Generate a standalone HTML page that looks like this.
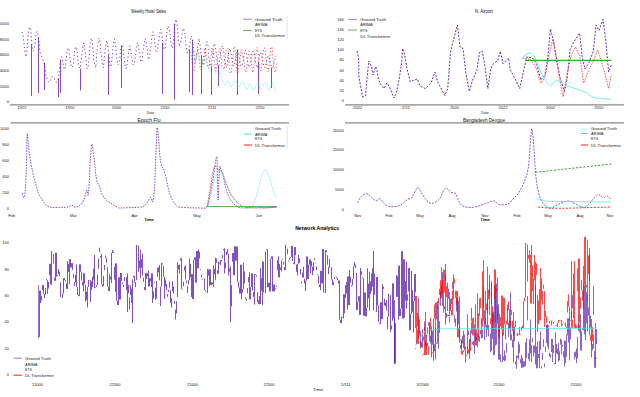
<!DOCTYPE html>
<html><head><meta charset="utf-8"><style>
html,body{margin:0;padding:0;background:#fff;}
svg{display:block;font-family:"Liberation Sans", sans-serif;}
</style></head><body>
<svg width="640" height="397" viewBox="0 0 640 397">
<rect width="640" height="397" fill="#fff"/>
<line x1="10" y1="104.8" x2="289" y2="104.8" stroke="#8a8a8a" stroke-width="1.2" opacity="1"/>
<text x="148.5" y="11.0" font-size="5.0" text-anchor="middle" fill="#111" font-weight="normal" opacity="1" dominant-baseline="central" textLength="35" lengthAdjust="spacingAndGlyphs">Weekly Hotel Sales</text>
<text x="9.0" y="101.6" font-size="4.2" text-anchor="end" fill="#222" font-weight="normal" opacity="1" dominant-baseline="central">0</text>
<text x="9.0" y="86.0" font-size="4.2" text-anchor="end" fill="#222" font-weight="normal" opacity="1" dominant-baseline="central">2000</text>
<text x="9.0" y="70.4" font-size="4.2" text-anchor="end" fill="#222" font-weight="normal" opacity="1" dominant-baseline="central">4000</text>
<text x="9.0" y="54.8" font-size="4.2" text-anchor="end" fill="#222" font-weight="normal" opacity="1" dominant-baseline="central">6000</text>
<text x="9.0" y="39.2" font-size="4.2" text-anchor="end" fill="#222" font-weight="normal" opacity="1" dominant-baseline="central">8000</text>
<text x="9.0" y="23.6" font-size="4.2" text-anchor="end" fill="#222" font-weight="normal" opacity="1" dominant-baseline="central">10000</text>
<text x="22.0" y="107.8" font-size="4.0" text-anchor="middle" fill="#222" font-weight="normal" opacity="1" dominant-baseline="central">1922</text>
<text x="70.0" y="107.8" font-size="4.0" text-anchor="middle" fill="#222" font-weight="normal" opacity="1" dominant-baseline="central">1950</text>
<text x="116.5" y="107.8" font-size="4.0" text-anchor="middle" fill="#222" font-weight="normal" opacity="1" dominant-baseline="central">2000</text>
<text x="165.0" y="107.8" font-size="4.0" text-anchor="middle" fill="#222" font-weight="normal" opacity="1" dominant-baseline="central">2150</text>
<text x="212.0" y="107.8" font-size="4.0" text-anchor="middle" fill="#222" font-weight="normal" opacity="1" dominant-baseline="central">2211</text>
<text x="260.0" y="107.8" font-size="4.0" text-anchor="middle" fill="#222" font-weight="normal" opacity="1" dominant-baseline="central">2250</text>
<text x="150.5" y="112.3" font-size="4.2" text-anchor="middle" fill="#222" font-weight="normal" opacity="1" dominant-baseline="central" textLength="7.5" lengthAdjust="spacingAndGlyphs">Date</text>
<polyline points="22.00,31.86 23.10,35.92 24.20,45.15 25.30,55.39 26.40,56.67 27.50,44.06 28.60,30.85 29.70,27.08 30.80,30.21 31.90,43.93 33.00,51.05 34.10,49.94 35.20,41.87 36.30,32.63 37.40,31.26 38.50,37.27 39.60,48.88 40.70,55.19 41.80,56.68 42.90,59.38 44.00,62.76 45.10,67.79 46.20,76.77 47.30,80.12 48.40,82.00 49.50,82.26 50.60,79.98 51.70,76.92 52.80,76.58 53.90,77.26 55.00,80.12 56.10,82.22 57.20,81.68 58.30,78.32 59.40,69.93 60.50,59.84 61.60,56.74 62.70,61.40 63.80,68.21 64.90,69.69 66.00,60.67 67.10,52.18 68.20,47.87 69.30,51.18 70.40,61.35 71.50,67.54 72.60,67.05 73.70,61.96 74.80,49.65 75.90,46.60 77.00,50.35 78.10,61.20 79.20,67.16 80.30,68.53 81.40,57.91 82.50,49.15 83.60,42.66 84.70,47.62 85.80,57.63 86.90,68.36 88.00,68.34 89.10,56.12 90.20,43.44 91.30,38.11 92.40,41.78 93.50,57.67 94.60,64.84 95.70,67.80 96.80,54.25 97.90,43.38 99.00,38.03 100.10,41.98 101.20,54.97 102.30,64.63 103.40,67.69 104.50,56.70 105.60,46.00 106.70,40.38 107.80,45.64 108.90,54.68 110.00,66.89 111.10,66.12 112.20,56.22 113.30,43.63 114.40,38.89 115.50,44.43 116.60,57.35 117.70,64.73 118.80,64.05 119.90,57.96 121.00,46.34 122.10,44.41 123.20,49.51 124.30,60.15 125.40,68.17 126.50,68.14 127.60,60.08 128.70,51.49 129.80,45.92 130.90,50.75 132.00,58.32 133.10,65.02 134.20,63.74 135.30,57.10 136.40,48.65 137.50,42.44 138.60,47.07 139.70,53.97 140.80,61.96 141.90,61.52 143.00,51.75 144.10,43.35 145.20,38.46 146.30,42.05 147.40,50.82 148.50,59.73 149.60,57.63 150.70,47.43 151.80,37.60 152.90,31.71 154.00,35.09 155.10,45.06 156.20,52.71 157.30,51.64 158.40,43.08 159.50,34.83 160.60,29.37 161.70,33.50 162.80,42.72 163.90,48.93 165.00,49.50 166.10,40.45 167.20,29.96 168.30,26.15 169.40,28.58 170.50,38.90 171.60,46.18 172.70,48.42 173.80,38.12 174.90,23.59 176.00,19.41 177.10,24.51 178.20,37.52 179.30,46.50 180.40,43.73 181.50,38.60 182.60,31.14 183.70,28.29 184.80,33.55 185.90,44.44 187.00,52.32 188.10,52.66 189.20,49.53 190.30,40.56 191.40,35.89 192.50,39.89 193.60,50.09 194.70,62.33 195.80,61.83 196.90,52.66 198.00,45.44 199.10,38.67 200.20,45.95 201.30,55.33 202.40,63.93 203.50,65.58 204.60,58.81 205.70,47.71 206.80,41.67 207.90,45.04 209.00,58.26 210.10,65.25 211.20,66.26 212.30,58.41 213.40,46.49 214.50,43.53 215.60,48.05 216.70,56.95 217.80,66.07 218.90,65.10 220.00,58.33 221.10,50.28 222.20,45.63 223.30,48.79 224.40,59.01 225.50,64.90 226.60,67.85 227.70,60.30 228.80,51.30 229.90,48.51 231.00,52.74 232.10,60.22 233.20,65.58 234.30,66.10 235.40,60.55 236.50,53.13 237.60,49.56 238.70,53.76 239.80,60.26 240.90,66.36 242.00,65.92 243.10,60.79 244.20,54.56 245.30,49.90 246.40,52.37 247.50,60.40 248.60,66.38 249.70,67.06 250.80,61.17 251.90,52.75 253.00,51.12 254.10,52.36 255.20,59.83 256.30,65.64 257.40,67.83 258.50,62.29 259.60,53.86 260.70,52.58 261.80,56.22 262.90,62.49 264.00,66.82 265.10,67.86 266.20,62.92 267.30,57.66 268.40,55.81 269.50,59.67 270.60,63.29 271.70,67.53 272.80,67.54 273.90,63.69 275.00,59.27 276.10,55.78" fill="none" stroke="#5e18b8" stroke-width="0.9" opacity="0.95" stroke-linejoin="round" stroke-dasharray="1.2,2.6"/>
<line x1="31.50" y1="43.93" x2="31.50" y2="96.00" stroke="#5e18b8" stroke-width="0.85" opacity="0.9"/>
<line x1="38.50" y1="37.27" x2="38.50" y2="93.00" stroke="#5e18b8" stroke-width="0.85" opacity="0.9"/>
<line x1="44.50" y1="62.76" x2="44.50" y2="90.00" stroke="#5e18b8" stroke-width="0.85" opacity="0.9"/>
<line x1="58.50" y1="78.32" x2="58.50" y2="97.00" stroke="#5e18b8" stroke-width="0.85" opacity="0.9"/>
<line x1="60.50" y1="59.84" x2="60.50" y2="93.00" stroke="#5e18b8" stroke-width="0.85" opacity="0.9"/>
<line x1="80.50" y1="68.53" x2="80.50" y2="90.50" stroke="#5e18b8" stroke-width="0.85" opacity="0.9"/>
<line x1="108.50" y1="54.68" x2="108.50" y2="95.00" stroke="#5e18b8" stroke-width="0.85" opacity="0.9"/>
<line x1="121.50" y1="46.34" x2="121.50" y2="88.00" stroke="#5e18b8" stroke-width="0.85" opacity="0.9"/>
<line x1="162.50" y1="42.72" x2="162.50" y2="93.70" stroke="#5e18b8" stroke-width="0.85" opacity="0.9"/>
<line x1="174.50" y1="23.59" x2="174.50" y2="99.70" stroke="#5e18b8" stroke-width="0.85" opacity="0.9"/>
<line x1="189.50" y1="49.53" x2="189.50" y2="92.00" stroke="#5e18b8" stroke-width="0.85" opacity="0.9"/>
<line x1="192.50" y1="39.89" x2="192.50" y2="95.00" stroke="#5e18b8" stroke-width="0.85" opacity="0.9"/>
<line x1="201.50" y1="55.33" x2="201.50" y2="94.00" stroke="#5e18b8" stroke-width="0.85" opacity="0.9"/>
<line x1="211.50" y1="66.26" x2="211.50" y2="95.00" stroke="#5e18b8" stroke-width="0.85" opacity="0.9"/>
<line x1="218.50" y1="65.10" x2="218.50" y2="86.00" stroke="#5e18b8" stroke-width="0.85" opacity="0.9"/>
<line x1="237.50" y1="49.56" x2="237.50" y2="95.00" stroke="#5e18b8" stroke-width="0.85" opacity="0.9"/>
<line x1="258.50" y1="62.29" x2="258.50" y2="94.00" stroke="#5e18b8" stroke-width="0.85" opacity="0.9"/>
<line x1="271.50" y1="67.53" x2="271.50" y2="88.00" stroke="#5e18b8" stroke-width="0.85" opacity="0.9"/>
<polyline points="190.00,52.23 191.00,53.33 192.00,60.59 193.00,71.01 194.00,71.02 195.00,61.77 196.00,58.58 197.00,52.31 198.00,48.33 199.00,56.70 200.00,66.60 201.00,69.89 202.00,66.06 203.00,60.45 204.00,53.52 205.00,47.74 206.00,52.69 207.00,62.37 208.00,67.01 209.00,68.73 210.00,59.25 211.00,55.40 212.00,48.05 213.00,50.69 214.00,59.54 215.00,66.34 216.00,71.24 217.00,63.70 218.00,54.23 219.00,51.72 220.00,48.55 221.00,56.43 222.00,67.43 223.00,67.88 224.00,69.66 225.00,63.39 226.00,50.11 227.00,49.38 228.00,48.34 229.00,63.15 230.00,73.25 231.00,73.25 232.00,66.33 233.00,55.28 234.00,46.17 235.00,47.60 236.00,58.41 237.00,70.60 238.00,73.21 239.00,65.06 240.00,59.78 241.00,49.38 242.00,51.55 243.00,57.25 244.00,61.21 245.00,70.34 246.00,72.30 247.00,65.04 248.00,57.18 249.00,51.33 250.00,54.83 251.00,57.50 252.00,68.75 253.00,72.76 254.00,65.08 255.00,59.34 256.00,52.36 257.00,47.58 258.00,51.99 259.00,67.66 260.00,68.12 261.00,70.70 262.00,62.92 263.00,53.90 264.00,47.69 265.00,48.44 266.00,59.81 267.00,65.80 268.00,71.67 269.00,65.55 270.00,56.61 271.00,46.85 272.00,47.19 273.00,58.70 274.00,67.37 275.00,72.78 276.00,67.11 277.00,63.57" fill="none" stroke="#ff1a1a" stroke-width="0.85" opacity="0.9" stroke-linejoin="round" stroke-dasharray="1.2,2.2"/>
<polyline points="190.00,49.15 191.00,50.93 192.00,54.74 193.00,58.23 194.00,59.65 195.00,58.41 196.00,56.25 197.00,55.34 198.00,56.03 199.00,57.52 200.00,61.54 201.00,64.50 202.00,64.32 203.00,61.60 204.00,59.50 205.00,59.05 206.00,61.21 207.00,64.28 208.00,66.98 209.00,68.75 210.00,67.07 211.00,65.14 212.00,62.67 213.00,64.31 214.00,66.07 215.00,70.02 216.00,73.97 217.00,73.83 218.00,72.78 219.00,72.65 220.00,71.91 221.00,75.44 222.00,78.83 223.00,82.77 224.00,85.07 225.00,84.61 226.00,82.49 227.00,80.98 228.00,81.13 229.00,82.39 230.00,85.49 231.00,86.59 232.00,86.70 233.00,84.03 234.00,80.57 235.00,79.74 236.00,80.82 237.00,83.82 238.00,86.51 239.00,86.22 240.00,86.13 241.00,82.64 242.00,81.59 243.00,81.17 244.00,84.46 245.00,86.94 246.00,89.54 247.00,89.80 248.00,87.03 249.00,84.81 250.00,84.04 251.00,85.31 252.00,88.16 253.00,89.83 254.00,90.85 255.00,88.28 256.00,85.33 257.00,83.38 258.00,82.58 259.00,85.35 260.00,87.70 261.00,88.61 262.00,88.40 263.00,85.63 264.00,83.22 265.00,82.03 266.00,83.01 267.00,86.25 268.00,88.76 269.00,90.37 270.00,88.13 271.00,85.27 272.00,83.94 273.00,83.89 274.00,86.27 275.00,88.59 276.00,91.32 277.00,90.77" fill="none" stroke="#3fe6ee" stroke-width="0.8" opacity="0.9" stroke-linejoin="round" stroke-dasharray="1.2,1.3"/>
<line x1="287" y1="16.6" x2="287" y2="39.5" stroke="#d8d8d8" stroke-width="0.8" opacity="1"/>
<line x1="243" y1="19.2" x2="252" y2="19.2" stroke="#a77cd6" stroke-width="1.0" opacity="1"/>
<line x1="243" y1="30.4" x2="252" y2="30.4" stroke="#5cb85c" stroke-width="1.0" opacity="1"/>
<text x="255.0" y="19.2" font-size="4.2" text-anchor="start" fill="#222" font-weight="normal" opacity="1" dominant-baseline="central" textLength="27.7" lengthAdjust="spacingAndGlyphs">Ground Truth</text>
<text x="255.0" y="24.7" font-size="4.2" text-anchor="start" fill="#222" font-weight="normal" opacity="1" dominant-baseline="central" textLength="12.4" lengthAdjust="spacingAndGlyphs">ARIMA</text>
<text x="255.0" y="30.4" font-size="4.2" text-anchor="start" fill="#222" font-weight="normal" opacity="1" dominant-baseline="central" textLength="7.2" lengthAdjust="spacingAndGlyphs">ETS</text>
<text x="255.0" y="35.8" font-size="4.2" text-anchor="start" fill="#222" font-weight="normal" opacity="1" dominant-baseline="central" textLength="30" lengthAdjust="spacingAndGlyphs">DL Transformer</text>
<line x1="345" y1="104.8" x2="624" y2="104.8" stroke="#8a8a8a" stroke-width="1.2" opacity="1"/>
<text x="484.0" y="11.0" font-size="5.0" text-anchor="middle" fill="#111" font-weight="normal" opacity="1" dominant-baseline="central" textLength="18" lengthAdjust="spacingAndGlyphs">N. Airport</text>
<text x="344.0" y="100.3" font-size="4.0" text-anchor="end" fill="#222" font-weight="normal" opacity="1" dominant-baseline="central">0</text>
<text x="344.0" y="90.2" font-size="4.0" text-anchor="end" fill="#222" font-weight="normal" opacity="1" dominant-baseline="central">20</text>
<text x="344.0" y="80.1" font-size="4.0" text-anchor="end" fill="#222" font-weight="normal" opacity="1" dominant-baseline="central">40</text>
<text x="344.0" y="70.0" font-size="4.0" text-anchor="end" fill="#222" font-weight="normal" opacity="1" dominant-baseline="central">60</text>
<text x="344.0" y="59.9" font-size="4.0" text-anchor="end" fill="#222" font-weight="normal" opacity="1" dominant-baseline="central">80</text>
<text x="344.0" y="49.8" font-size="4.0" text-anchor="end" fill="#222" font-weight="normal" opacity="1" dominant-baseline="central">100</text>
<text x="344.0" y="39.7" font-size="4.0" text-anchor="end" fill="#222" font-weight="normal" opacity="1" dominant-baseline="central">120</text>
<text x="344.0" y="29.6" font-size="4.0" text-anchor="end" fill="#222" font-weight="normal" opacity="1" dominant-baseline="central">140</text>
<text x="344.0" y="19.5" font-size="4.0" text-anchor="end" fill="#222" font-weight="normal" opacity="1" dominant-baseline="central">160</text>
<text x="357.7" y="107.8" font-size="4.0" text-anchor="middle" fill="#222" font-weight="normal" opacity="1" dominant-baseline="central">2022</text>
<text x="406.0" y="107.8" font-size="4.0" text-anchor="middle" fill="#222" font-weight="normal" opacity="1" dominant-baseline="central">2/22</text>
<text x="454.6" y="107.8" font-size="4.0" text-anchor="middle" fill="#222" font-weight="normal" opacity="1" dominant-baseline="central">2500</text>
<text x="503.0" y="107.8" font-size="4.0" text-anchor="middle" fill="#222" font-weight="normal" opacity="1" dominant-baseline="central">2022</text>
<text x="550.5" y="107.8" font-size="4.0" text-anchor="middle" fill="#222" font-weight="normal" opacity="1" dominant-baseline="central">2002</text>
<text x="599.0" y="107.8" font-size="4.0" text-anchor="middle" fill="#222" font-weight="normal" opacity="1" dominant-baseline="central">2050</text>
<text x="485.0" y="112.3" font-size="4.2" text-anchor="middle" fill="#222" font-weight="normal" opacity="1" dominant-baseline="central" textLength="7.5" lengthAdjust="spacingAndGlyphs">Date</text>
<polyline points="357.00,51.00 358.50,58.00 359.00,77.50 361.00,88.60 362.70,97.00 365.50,95.60 366.60,83.00 368.80,61.00 371.50,66.50 373.00,75.00 375.70,66.50 377.00,70.60 378.50,80.00 381.00,84.50 384.00,88.60 386.80,83.00 389.60,87.00 392.30,94.00 394.00,98.00 396.50,92.80 399.00,80.00 401.50,63.70 402.60,48.50 404.80,55.00 407.00,69.00 410.30,81.70 414.50,80.00 417.30,79.00 420.00,86.00 425.50,88.60 431.00,83.00 435.00,72.00 438.00,83.00 445.00,95.60 447.70,88.60 450.50,52.60 453.00,41.60 457.40,25.00 460.00,47.00 463.00,48.50 465.70,72.00 469.30,91.40 472.60,80.00 476.80,70.60 479.50,52.60 482.30,51.20 485.00,66.50 487.90,88.60 490.60,69.00 493.40,63.70 497.60,61.00 500.30,51.20 503.00,63.70 508.60,58.00 510.00,69.00 515.60,80.00 519.70,88.60 524.00,69.00 527.00,56.80 532.50,58.00 536.60,63.70 540.80,80.00 545.00,74.80 547.70,58.00 550.50,29.00 553.00,38.80 556.00,55.40 560.00,77.60 564.30,91.40 567.00,80.00 570.00,49.90 574.00,41.60 579.60,33.20 582.30,58.00 585.00,69.00 589.00,62.30 593.40,51.20 596.00,25.00 599.00,30.50 603.00,19.40 605.90,41.60 608.60,72.00 611.40,65.00" fill="none" stroke="#5a14b4" stroke-width="0.9" opacity="1.0" stroke-linejoin="round" stroke-dasharray="2,1.5"/>
<polyline points="522.80,58.00 531.00,59.60 536.60,69.00 540.80,83.00 545.00,77.60 549.00,55.40 553.00,38.80 557.40,66.50 563.00,97.00 567.00,74.80 571.20,55.40 575.40,47.00 579.60,55.40 583.70,83.00 587.90,72.00 593.40,61.00 597.60,49.90 603.00,66.50 608.60,88.60 611.40,74.80" fill="none" stroke="#ff1a1a" stroke-width="0.85" opacity="0.9" stroke-linejoin="round" stroke-dasharray="1.5,1.2"/>
<polyline points="522.00,60.00 522.81,58.12 524.00,56.00 525.38,54.81 527.00,54.00 529.00,53.19 531.00,53.00 532.59,54.12 534.00,56.00 535.15,57.82 536.60,61.00 538.93,67.51 542.00,74.80 546.24,81.64 550.50,86.00 553.09,83.33 556.00,80.00 561.32,82.46 567.00,86.00 571.19,87.41 575.40,88.60 580.96,90.54 586.50,92.80 590.31,95.60 594.80,98.00 603.62,98.83 611.40,99.00" fill="none" stroke="#3fe6ee" stroke-width="0.8" opacity="0.9" stroke-linejoin="round"/>
<line x1="525" y1="60.4" x2="611.4" y2="60.4" stroke="#3aa63a" stroke-width="1.1" opacity="1"/>
<line x1="348" y1="19.4" x2="357" y2="19.4" stroke="#a77cd6" stroke-width="1.0" opacity="1"/>
<line x1="348" y1="30" x2="357" y2="30" stroke="#5cb85c" stroke-width="1.0" opacity="1"/>
<text x="360.3" y="19.4" font-size="4.2" text-anchor="start" fill="#222" font-weight="normal" opacity="1" dominant-baseline="central" textLength="25.8" lengthAdjust="spacingAndGlyphs">Ground Truth</text>
<text x="360.3" y="24.9" font-size="4.2" text-anchor="start" fill="#222" font-weight="normal" opacity="1" dominant-baseline="central" textLength="12.4" lengthAdjust="spacingAndGlyphs">ARIMA</text>
<text x="360.3" y="30.5" font-size="4.2" text-anchor="start" fill="#222" font-weight="normal" opacity="1" dominant-baseline="central" textLength="7.2" lengthAdjust="spacingAndGlyphs">ETS</text>
<text x="360.3" y="36.2" font-size="4.2" text-anchor="start" fill="#222" font-weight="normal" opacity="1" dominant-baseline="central" textLength="30" lengthAdjust="spacingAndGlyphs">DL Transformer</text>
<line x1="10.5" y1="122.9" x2="289" y2="122.9" stroke="#8a8a8a" stroke-width="1.2" opacity="1"/>
<line x1="287.2" y1="125.9" x2="287.2" y2="148.5" stroke="#dcdcdc" stroke-width="0.8" opacity="1"/>
<text x="149.0" y="120.0" font-size="5.0" text-anchor="middle" fill="#111" font-weight="normal" opacity="1" dominant-baseline="central" textLength="23" lengthAdjust="spacingAndGlyphs">Epoch Flu</text>
<text x="9.0" y="208.0" font-size="4.0" text-anchor="end" fill="#222" font-weight="normal" opacity="1" dominant-baseline="central">0</text>
<text x="9.0" y="192.0" font-size="4.0" text-anchor="end" fill="#222" font-weight="normal" opacity="1" dominant-baseline="central">200</text>
<text x="9.0" y="176.0" font-size="4.0" text-anchor="end" fill="#222" font-weight="normal" opacity="1" dominant-baseline="central">400</text>
<text x="9.0" y="160.0" font-size="4.0" text-anchor="end" fill="#222" font-weight="normal" opacity="1" dominant-baseline="central">600</text>
<text x="9.0" y="144.0" font-size="4.0" text-anchor="end" fill="#222" font-weight="normal" opacity="1" dominant-baseline="central">800</text>
<text x="9.0" y="128.0" font-size="4.0" text-anchor="end" fill="#222" font-weight="normal" opacity="1" dominant-baseline="central">1000</text>
<text x="11.6" y="215.3" font-size="4.0" text-anchor="middle" fill="#222" font-weight="normal" opacity="1" dominant-baseline="central">Feb</text>
<text x="73.4" y="215.3" font-size="4.0" text-anchor="middle" fill="#222" font-weight="normal" opacity="1" dominant-baseline="central">Mar</text>
<text x="134.6" y="215.3" font-size="4.0" text-anchor="middle" fill="#222" font-weight="normal" opacity="1" dominant-baseline="central">Apr</text>
<text x="197.0" y="215.3" font-size="4.0" text-anchor="middle" fill="#222" font-weight="normal" opacity="1" dominant-baseline="central">May</text>
<text x="259.0" y="215.3" font-size="4.0" text-anchor="middle" fill="#222" font-weight="normal" opacity="1" dominant-baseline="central">Jun</text>
<text x="149.0" y="219.8" font-size="4.2" text-anchor="middle" fill="#000" font-weight="normal" opacity="1" dominant-baseline="central" textLength="9.3" lengthAdjust="spacingAndGlyphs" stroke="#000" stroke-width="0.12">Time</text>
<polyline points="22.50,193.40 22.73,194.89 23.07,196.84 23.50,197.60 24.06,197.10 24.71,195.41 25.30,191.00 25.76,182.31 26.16,170.90 26.50,160.00 26.73,149.22 26.91,138.94 27.20,133.50 27.68,136.13 28.27,143.60 28.90,150.60 29.57,155.30 30.28,159.53 31.00,163.50 31.73,167.24 32.47,170.72 33.20,174.00 33.87,176.96 34.52,179.72 35.30,182.70 36.29,186.32 37.39,190.16 38.50,193.40 39.53,195.53 40.55,197.06 41.70,198.70 43.01,200.87 44.45,203.16 46.00,205.00 47.57,206.15 49.24,206.85 51.30,207.30 53.97,207.48 57.03,207.41 60.00,207.30 62.87,207.29 65.66,207.24 68.00,207.00 69.67,206.30 70.89,205.41 72.00,205.00 72.95,205.66 73.79,206.79 75.00,207.30 77.00,206.73 79.38,205.54 81.40,204.00 82.74,202.14 83.73,199.94 84.60,197.60 85.44,194.67 86.16,191.61 86.80,190.00 87.33,191.70 87.77,194.86 88.20,195.50 88.66,191.63 89.10,185.26 89.50,178.40 89.80,171.27 90.06,163.67 90.40,157.00 90.90,151.24 91.47,146.41 92.00,144.00 92.42,145.25 92.79,148.92 93.20,152.80 93.70,156.23 94.23,159.88 94.70,163.50 95.04,167.08 95.33,170.64 95.70,174.00 96.20,177.23 96.77,180.27 97.40,182.70 98.10,184.05 98.86,184.80 99.60,186.00 100.23,188.20 100.84,190.86 101.70,193.40 102.97,195.73 104.49,197.94 106.00,199.80 107.32,201.06 108.64,201.97 110.30,203.00 112.73,204.49 115.50,206.09 117.70,207.30 118.37,207.85 118.48,208.00 120.00,208.00 124.29,207.91 129.98,207.69 135.00,207.40 138.59,207.24 141.49,207.02 143.90,206.30 145.76,204.68 147.13,202.56 148.30,200.70 149.36,199.14 150.24,197.84 151.00,197.40 151.64,198.95 152.16,201.36 152.70,201.80 153.33,199.02 153.96,194.27 154.50,188.50 154.86,181.82 155.12,174.12 155.40,166.00 155.77,156.99 156.16,147.56 156.50,139.70 156.73,133.69 156.92,129.24 157.20,127.50 157.66,129.63 158.20,134.48 158.70,139.70 159.07,144.82 159.40,150.31 159.80,155.30 160.35,159.63 160.97,163.45 161.60,166.30 162.17,167.47 162.74,167.67 163.40,168.60 164.22,170.97 165.13,174.06 166.00,177.40 166.75,180.97 167.47,184.80 168.30,188.50 169.24,192.00 170.30,195.37 171.60,198.50 173.27,201.51 175.18,204.28 177.10,206.30 178.53,207.18 179.96,207.32 182.70,207.40 187.98,207.70 194.56,207.94 200.00,208.00 203.24,208.19 205.34,208.21 207.00,207.00 208.30,203.93 209.15,199.63 210.00,195.00 211.04,190.22 212.07,185.11 213.00,180.00 213.74,174.70 214.37,169.41 215.00,165.00 215.70,160.26 216.41,156.41 217.00,158.00 217.39,171.11 217.67,189.67 218.00,200.00 218.46,193.56 218.98,178.89 219.50,168.00 219.98,166.04 220.46,167.85 221.00,170.00 221.63,171.26 222.31,172.85 223.00,175.00 223.63,177.96 224.26,181.48 225.00,185.00 225.89,188.44 226.89,191.89 228.00,195.00 229.19,197.63 230.48,199.93 232.00,202.00 233.81,203.96 235.85,205.70 238.00,207.00 240.15,207.70 242.41,207.96 245.00,208.00 248.11,207.74 251.56,207.26 255.00,207.00 258.26,207.26 261.52,207.74 265.00,208.00 269.30,207.78 273.81,207.33 277.00,207.00" fill="none" stroke="#5e18b8" stroke-width="0.8" opacity="0.95" stroke-linejoin="round" stroke-dasharray="1.6,1.2"/>
<polyline points="207.00,207.00 207.54,203.97 208.31,199.62 209.18,194.72 210.00,190.00 210.77,185.29 211.56,180.31 212.32,175.68 213.00,172.00 213.55,169.42 214.00,167.62 214.45,166.52 215.00,166.00 215.66,166.34 216.38,167.50 217.16,168.91 218.00,170.00 218.95,170.50 220.00,170.75 221.05,171.12 222.00,172.00 222.77,173.46 223.44,175.31 224.13,177.51 225.00,180.00 226.04,182.97 227.19,186.38 228.49,189.84 230.00,193.00 231.81,195.85 233.88,198.56 236.00,200.99 238.00,203.00 239.75,204.49 241.38,205.56 243.06,206.35 245.00,207.00 247.01,207.51 249.06,207.81 251.59,207.96 255.00,208.00 260.17,207.87 266.62,207.56 272.77,207.23 277.00,207.00" fill="none" stroke="#ff1a1a" stroke-width="0.8" opacity="0.9" stroke-linejoin="round" stroke-dasharray="1.8,1"/>
<polyline points="208.00,207.00 208.72,203.90 209.75,199.44 210.91,194.51 212.00,190.00 213.00,185.88 214.00,181.75 215.00,178.00 216.00,175.00 217.02,172.81 218.06,171.25 219.07,170.31 220.00,170.00 220.80,170.43 221.50,171.56 222.20,173.16 223.00,175.00 223.91,177.15 224.88,179.69 225.91,182.38 227.00,185.00 228.11,187.50 229.25,190.00 230.52,192.50 232.00,195.00 233.84,197.66 235.94,200.44 238.07,202.99 240.00,205.00 241.64,206.34 243.12,207.19 244.55,207.70 246.00,208.00 247.57,208.17 249.19,208.12 250.71,207.77 252.00,207.00 252.96,205.74 253.69,204.06 254.32,202.10 255.00,200.00 255.73,197.83 256.44,195.50 257.18,192.92 258.00,190.00 258.93,186.37 259.94,182.19 260.98,178.16 262.00,175.00 263.00,172.70 264.00,170.94 265.00,169.96 266.00,170.00 267.02,171.45 268.06,174.06 269.07,177.15 270.00,180.00 270.82,182.57 271.56,185.19 272.27,187.71 273.00,190.00 273.82,192.12 274.69,194.12 275.46,195.81 276.00,197.00" fill="none" stroke="#3fe6ee" stroke-width="0.7" opacity="0.9" stroke-linejoin="round" stroke-dasharray="1.5,0.8"/>
<line x1="207" y1="206.5" x2="277" y2="206.5" stroke="#3aa63a" stroke-width="0.8" opacity="1"/>
<line x1="244" y1="134" x2="252" y2="134" stroke="#3fe6ee" stroke-width="1.0" opacity="1"/>
<line x1="244" y1="145" x2="252" y2="145" stroke="#ff1a1a" stroke-width="1.0" opacity="1"/>
<text x="255.0" y="128.0" font-size="4.2" text-anchor="start" fill="#222" font-weight="normal" opacity="1" dominant-baseline="central" textLength="26" lengthAdjust="spacingAndGlyphs">Ground Truth</text>
<text x="255.0" y="134.0" font-size="4.2" text-anchor="start" fill="#222" font-weight="normal" opacity="1" dominant-baseline="central" textLength="12.4" lengthAdjust="spacingAndGlyphs">ARIMA</text>
<text x="255.0" y="138.5" font-size="4.2" text-anchor="start" fill="#222" font-weight="normal" opacity="1" dominant-baseline="central" textLength="7.2" lengthAdjust="spacingAndGlyphs">ETS</text>
<text x="255.0" y="145.0" font-size="4.2" text-anchor="start" fill="#222" font-weight="normal" opacity="1" dominant-baseline="central" textLength="30" lengthAdjust="spacingAndGlyphs">DL Transformer</text>
<line x1="345" y1="122.9" x2="624" y2="122.9" stroke="#8a8a8a" stroke-width="1.2" opacity="1"/>
<text x="484.0" y="120.0" font-size="5.0" text-anchor="middle" fill="#111" font-weight="normal" opacity="1" dominant-baseline="central" textLength="42" lengthAdjust="spacingAndGlyphs">Bangladesh Dengue</text>
<text x="344.0" y="209.0" font-size="4.0" text-anchor="end" fill="#222" font-weight="normal" opacity="1" dominant-baseline="central">0</text>
<text x="344.0" y="189.3" font-size="4.0" text-anchor="end" fill="#222" font-weight="normal" opacity="1" dominant-baseline="central">5000</text>
<text x="344.0" y="169.6" font-size="4.0" text-anchor="end" fill="#222" font-weight="normal" opacity="1" dominant-baseline="central">10000</text>
<text x="344.0" y="149.9" font-size="4.0" text-anchor="end" fill="#222" font-weight="normal" opacity="1" dominant-baseline="central">15000</text>
<text x="344.0" y="130.2" font-size="4.0" text-anchor="end" fill="#222" font-weight="normal" opacity="1" dominant-baseline="central">20000</text>
<text x="357.7" y="215.8" font-size="4.0" text-anchor="middle" fill="#222" font-weight="normal" opacity="1" dominant-baseline="central">Nov</text>
<text x="389.0" y="215.8" font-size="4.0" text-anchor="middle" fill="#222" font-weight="normal" opacity="1" dominant-baseline="central">Feb</text>
<text x="420.0" y="215.8" font-size="4.0" text-anchor="middle" fill="#222" font-weight="normal" opacity="1" dominant-baseline="central">May</text>
<text x="452.0" y="215.8" font-size="4.0" text-anchor="middle" fill="#222" font-weight="normal" opacity="1" dominant-baseline="central">Aug</text>
<text x="485.0" y="215.8" font-size="4.0" text-anchor="middle" fill="#222" font-weight="normal" opacity="1" dominant-baseline="central">Nov</text>
<text x="517.0" y="215.8" font-size="4.0" text-anchor="middle" fill="#222" font-weight="normal" opacity="1" dominant-baseline="central">Feb</text>
<text x="548.0" y="215.8" font-size="4.0" text-anchor="middle" fill="#222" font-weight="normal" opacity="1" dominant-baseline="central">May</text>
<text x="580.0" y="215.8" font-size="4.0" text-anchor="middle" fill="#222" font-weight="normal" opacity="1" dominant-baseline="central">Aug</text>
<text x="610.0" y="215.8" font-size="4.0" text-anchor="middle" fill="#222" font-weight="normal" opacity="1" dominant-baseline="central">Nov</text>
<text x="485.0" y="219.8" font-size="4.2" text-anchor="middle" fill="#000" font-weight="normal" opacity="1" dominant-baseline="central" textLength="9.3" lengthAdjust="spacingAndGlyphs" stroke="#000" stroke-width="0.12">Time</text>
<polyline points="357.70,202.80 358.33,201.31 359.26,199.20 360.50,197.30 362.13,195.66 364.07,194.22 366.00,193.60 367.88,194.29 369.76,195.80 371.50,197.30 373.00,198.73 374.35,200.14 375.70,200.90 377.10,200.30 378.51,199.04 379.90,198.60 381.27,199.81 382.63,201.83 384.00,203.60 385.24,204.80 386.49,205.76 388.20,206.40 390.77,206.69 393.79,206.67 396.50,206.40 398.54,205.93 400.26,205.22 402.00,204.20 403.91,202.60 405.84,200.69 407.60,199.20 409.02,198.86 410.28,198.94 411.70,198.00 413.51,194.63 415.49,190.24 417.30,187.60 418.72,188.14 419.98,190.43 421.40,193.00 423.16,195.65 425.09,198.57 427.00,200.90 428.78,202.40 430.54,203.31 432.50,203.40 434.89,202.48 437.46,200.75 439.70,198.60 441.38,195.77 442.72,192.52 443.90,190.00 444.86,188.61 445.64,187.96 446.60,188.00 447.89,189.10 449.34,190.90 450.80,192.30 452.26,192.62 453.71,192.54 455.00,193.00 455.96,194.45 456.74,196.45 457.70,198.60 458.84,201.02 460.16,203.59 461.90,205.60 464.35,206.72 467.24,207.28 470.00,207.50 472.36,207.42 474.60,207.00 477.00,206.40 479.70,205.59 482.56,204.59 485.40,203.60 488.33,202.48 491.24,201.37 493.70,200.90 495.36,201.59 496.56,202.93 497.90,204.00 499.63,204.48 501.51,204.69 503.40,204.70 505.32,204.61 507.25,204.32 509.00,203.60 510.39,202.24 511.61,200.46 513.00,198.60 514.75,196.98 516.67,195.29 518.60,193.00 520.52,189.84 522.44,186.09 524.20,182.00 525.76,177.96 527.14,173.59 528.30,168.00 529.14,160.09 529.75,150.96 530.30,143.00 530.83,136.31 531.30,130.80 531.80,128.50 532.39,130.80 533.00,136.31 533.60,143.00 534.16,150.96 534.69,160.09 535.20,168.00 535.63,173.48 536.04,177.74 536.60,182.00 537.38,186.89 538.32,191.78 539.40,196.00 540.56,199.26 541.87,201.85 543.50,204.00 545.57,205.93 547.96,207.41 550.50,208.00 553.12,207.23 555.88,205.56 558.80,204.00 562.03,202.67 565.42,201.44 568.50,200.90 570.96,201.46 573.10,202.71 575.40,204.00 578.17,205.40 581.10,206.84 583.70,207.50 585.67,206.97 587.31,205.66 589.00,204.00 590.96,201.86 592.97,199.36 594.80,197.30 596.33,195.84 597.67,194.82 599.00,194.50 600.34,195.40 601.65,197.01 603.00,198.00 604.42,197.52 605.87,196.43 607.30,196.00 608.83,197.04 610.34,198.74 611.40,200.00" fill="none" stroke="#5e18b8" stroke-width="0.8" opacity="0.9" stroke-linejoin="round" stroke-dasharray="2,1.2"/>
<line x1="535.5" y1="172.3" x2="611.4" y2="164" stroke="#3aa63a" stroke-width="1.0" opacity="1" stroke-dasharray="2.2,1.5"/>
<polyline points="536.60,198.00 537.44,198.37 538.61,198.91 540.13,199.50 542.00,200.00 543.25,200.41 544.19,200.79 546.79,201.12 553.00,201.40 565.64,201.62 582.89,201.79 599.80,201.91 611.40,202.00" fill="none" stroke="#3fe6ee" stroke-width="0.8" opacity="0.9" stroke-linejoin="round"/>
<polyline points="538.00,207.00 550.50,208.30 565.70,208.30 592.00,207.50 611.40,207.00" fill="none" stroke="#ff1a1a" stroke-width="1.0" opacity="0.9" stroke-linejoin="round" stroke-dasharray="2,1.5"/>
<line x1="581" y1="133.5" x2="588" y2="133.5" stroke="#3fe6ee" stroke-width="1.0" opacity="1"/>
<line x1="581" y1="145" x2="588" y2="145" stroke="#ff1a1a" stroke-width="1.0" opacity="1"/>
<text x="591.0" y="128.0" font-size="4.2" text-anchor="start" fill="#222" font-weight="normal" opacity="1" dominant-baseline="central" textLength="26" lengthAdjust="spacingAndGlyphs">Ground Truth</text>
<text x="591.0" y="133.5" font-size="4.2" text-anchor="start" fill="#222" font-weight="normal" opacity="1" dominant-baseline="central" textLength="12.4" lengthAdjust="spacingAndGlyphs">ARIMA</text>
<text x="591.0" y="138.5" font-size="4.2" text-anchor="start" fill="#222" font-weight="normal" opacity="1" dominant-baseline="central" textLength="7.2" lengthAdjust="spacingAndGlyphs">ETS</text>
<text x="591.0" y="145.0" font-size="4.2" text-anchor="start" fill="#222" font-weight="normal" opacity="1" dominant-baseline="central" textLength="30" lengthAdjust="spacingAndGlyphs">DL Transformer</text>
<text x="317.2" y="227.8" font-size="5.4" text-anchor="middle" fill="#000" font-weight="bold" opacity="1" dominant-baseline="central" textLength="44" lengthAdjust="spacingAndGlyphs">Network Analytics</text>
<text x="9.0" y="374.6" font-size="4.0" text-anchor="end" fill="#222" font-weight="normal" opacity="1" dominant-baseline="central">0</text>
<text x="9.0" y="348.2" font-size="4.0" text-anchor="end" fill="#222" font-weight="normal" opacity="1" dominant-baseline="central">20</text>
<text x="9.0" y="321.8" font-size="4.0" text-anchor="end" fill="#222" font-weight="normal" opacity="1" dominant-baseline="central">40</text>
<text x="9.0" y="295.4" font-size="4.0" text-anchor="end" fill="#222" font-weight="normal" opacity="1" dominant-baseline="central">60</text>
<text x="9.0" y="269.0" font-size="4.0" text-anchor="end" fill="#222" font-weight="normal" opacity="1" dominant-baseline="central">80</text>
<text x="9.0" y="242.6" font-size="4.0" text-anchor="end" fill="#222" font-weight="normal" opacity="1" dominant-baseline="central">100</text>
<text x="37.5" y="384.0" font-size="4.0" text-anchor="middle" fill="#222" font-weight="normal" opacity="1" dominant-baseline="central">11000</text>
<text x="115.0" y="384.0" font-size="4.0" text-anchor="middle" fill="#222" font-weight="normal" opacity="1" dominant-baseline="central">22500</text>
<text x="192.5" y="384.0" font-size="4.0" text-anchor="middle" fill="#222" font-weight="normal" opacity="1" dominant-baseline="central">21000</text>
<text x="269.0" y="384.0" font-size="4.0" text-anchor="middle" fill="#222" font-weight="normal" opacity="1" dominant-baseline="central">22500</text>
<text x="346.0" y="384.0" font-size="4.0" text-anchor="middle" fill="#222" font-weight="normal" opacity="1" dominant-baseline="central">5/111</text>
<text x="422.7" y="384.0" font-size="4.0" text-anchor="middle" fill="#222" font-weight="normal" opacity="1" dominant-baseline="central">3/1566</text>
<text x="499.0" y="384.0" font-size="4.0" text-anchor="middle" fill="#222" font-weight="normal" opacity="1" dominant-baseline="central">25100</text>
<text x="576.0" y="384.0" font-size="4.0" text-anchor="middle" fill="#222" font-weight="normal" opacity="1" dominant-baseline="central">25500</text>
<text x="318.0" y="389.0" font-size="4.2" text-anchor="middle" fill="#222" font-weight="normal" opacity="1" dominant-baseline="central" textLength="10" lengthAdjust="spacingAndGlyphs">Time</text>
<line x1="38.5" y1="285" x2="38.5" y2="337" stroke="#5010a8" stroke-width="0.9" opacity="0.6"/>
<line x1="394.5" y1="300" x2="394.5" y2="363.7" stroke="#5010a8" stroke-width="0.9" opacity="0.7"/>
<path d="M38.5 337.0V337.8M39.5 290.5V337.0M40.5 290.5V303.0M41.5 296.1V300.7M42.5 285.0V289.9M43.5 285.0V293.9M44.5 293.9V298.0M45.5 288.1V294.8M46.5 279.0V280.3M47.5 280.3V293.9M48.5 282.0V288.6M49.5 263.8V275.2M50.5 263.8V284.5M51.5 251.2V284.5M52.5 251.2V251.5M53.5 254.0V263.4M54.5 277.7V280.8M55.5 252.8V280.8M56.5 252.8V276.7M57.5 275.2V276.1M58.5 269.1V274.0M59.5 271.7V276.4M60.5 282.4V297.0M61.5 297.2V297.5M62.5 293.6V298.0M63.5 278.0V293.6M64.5 278.0V280.2M65.5 280.4V281.5M66.5 283.3V288.9M67.5 261.1V288.9M68.5 263.9V271.9M69.5 259.1V284.0M70.5 259.1V267.5M71.5 263.1V267.5M72.5 263.1V269.9M73.5 273.9V278.2M74.5 282.2V286.0M75.5 275.0V282.5M76.5 264.4V287.1M77.5 287.1V295.0M78.5 295.0V296.1M79.5 264.3V296.1M80.5 264.3V271.7M81.5 271.7V280.5M82.5 281.9V285.7M83.5 272.9V291.4M84.5 273.5V283.5M85.5 284.9V301.4M86.5 291.9V299.8M87.5 286.8V307.5M88.5 280.0V286.8M89.5 280.2V280.5M90.5 280.2V302.0M91.5 281.3V290.2M92.5 276.7V287.0M93.5 268.6V279.8M94.5 255.0V288.3M95.5 287.0V287.6M96.5 285.0V286.7M97.5 274.7V285.0M98.5 258.7V268.8M99.5 247.7V252.0M100.5 256.0V257.5M101.5 253.8V284.3M102.5 284.3V286.4M103.5 275.9V286.4M104.5 265.0V270.2M105.5 255.5V258.0M106.5 258.0V262.8M107.5 267.1V286.7M108.5 286.7V291.0M109.5 274.4V291.0M110.5 276.6V279.6M111.5 252.9V283.0M112.5 250.0V252.9M113.5 251.5V253.0M114.5 266.6V279.6M115.5 263.4V291.8M116.5 263.4V300.6M117.5 300.6V305.0M118.5 277.3V305.0M119.5 277.3V299.5M120.5 273.0V299.5M121.5 273.0V280.9M122.5 282.7V284.0M123.5 284.6V286.8M124.5 276.9V281.3M125.5 274.2V274.5M126.5 276.9V290.2M127.5 273.3V312.0M128.5 284.8V293.3M129.5 297.4V309.5M130.5 285.2V295.2M131.5 288.4V303.1M132.5 279.3V323.0M133.5 275.6V277.4M134.5 275.8V282.8M135.5 282.1V287.1M136.5 245.0V280.1M137.5 245.3V245.6M138.5 245.8V272.0M139.5 260.4V268.2M140.5 249.7V278.0M141.5 259.3V267.8M142.5 253.6V275.6M143.5 277.7V281.7M144.5 287.0V290.0M145.5 272.9V290.0M146.5 272.9V279.1M147.5 273.5V276.4M148.5 270.8V286.5M149.5 278.2V286.5M150.5 278.4V281.4M151.5 273.3V287.0M152.5 273.3V303.0M153.5 291.5V298.7M154.5 282.4V283.3M155.5 287.7V299.8M156.5 281.0V298.5M157.5 267.9V277.0M158.5 267.1V272.4M159.5 264.9V280.3M160.5 286.7V306.0M161.5 263.0V286.7M162.5 263.4V264.4M163.5 266.0V276.8M164.5 276.8V298.9M165.5 279.4V286.4M166.5 283.9V290.1M167.5 293.9V296.7M168.5 289.8V292.0M169.5 281.7V287.6M170.5 290.2V303.0M171.5 297.9V307.4M172.5 281.1V291.3M173.5 286.7V293.6M174.5 300.8V303.7M175.5 309.6V319.5M176.5 301.2V313.4M177.5 262.2V297.1M178.5 265.1V269.1M179.5 264.7V273.6M180.5 258.4V260.6M181.5 258.3V288.9M182.5 288.9V289.7M183.5 281.8V286.2M184.5 266.5V270.4M185.5 265.4V279.4M186.5 280.6V282.9M187.5 286.1V292.9M188.5 280.1V284.6M189.5 258.7V280.1M190.5 263.8V277.3M191.5 274.1V297.1M192.5 274.1V299.0M193.5 260.0V299.0M194.5 257.3V260.0M195.5 257.3V282.6M196.5 251.0V282.6M197.5 251.0V268.3M198.5 249.5V268.3M199.5 251.7V258.5M200.5 269.3V270.2M201.5 274.6V277.2M202.5 278.9V279.7M203.5 278.7V279.0M204.5 278.4V290.0M205.5 290.0V291.4M206.5 291.9V292.4M207.5 268.9V292.9M208.5 269.5V275.6M209.5 269.4V286.0M210.5 269.4V285.1M211.5 282.2V285.1M212.5 282.6V284.4M213.5 265.2V287.1M214.5 268.9V274.2M215.5 257.7V280.3M216.5 258.4V262.9M217.5 270.4V273.8M218.5 261.6V273.8M219.5 262.4V263.6M220.5 260.0V265.0M221.5 260.0V261.4M222.5 255.0V258.5M223.5 249.0V250.1M224.5 248.3V273.3M225.5 262.8V268.1M226.5 251.8V255.0M227.5 249.0V254.1M228.5 254.1V275.7M229.5 268.5V271.6M230.5 266.7V322.0M231.5 285.3V306.3M232.5 253.0V261.8M233.5 253.0V275.2M234.5 246.2V275.2M235.5 246.2V260.7M236.5 246.6V260.7M237.5 246.6V281.6M238.5 281.6V287.5M239.5 287.5V293.6M240.5 264.7V293.6M241.5 264.7V299.3M242.5 288.9V292.6M243.5 263.0V288.8M244.5 271.4V283.4M245.5 297.3V298.9M246.5 298.9V300.8M247.5 288.0V293.2M248.5 277.2V282.1M249.5 272.2V299.3M250.5 287.3V299.3M251.5 273.4V287.3M252.5 273.4V290.6M253.5 292.0V296.9M254.5 274.1V304.6M255.5 274.1V274.9M256.5 275.2V276.7M257.5 292.3V302.0M258.5 300.2V303.9M259.5 296.0V304.1M260.5 268.2V304.1M261.5 277.9V290.8M262.5 261.5V305.0M263.5 261.5V292.4M264.5 292.8V293.1M265.5 251.4V293.0M266.5 249.3V250.1M267.5 249.2V287.2M268.5 282.8V287.2M269.5 282.8V291.5M270.5 258.8V291.5M271.5 256.3V258.8M272.5 256.3V291.4M273.5 284.5V291.4M274.5 284.5V291.4M275.5 288.4V289.5M276.5 285.8V287.0M277.5 260.2V270.1M278.5 256.4V277.4M279.5 263.9V277.4M280.5 267.4V270.0M281.5 260.5V271.3M282.5 258.9V259.7M283.5 261.8V264.7M284.5 266.9V270.2M285.5 244.9V270.2M286.5 244.4V244.7M287.5 248.7V254.3M288.5 260.5V261.5M289.5 257.7V259.6M290.5 256.8V257.7M291.5 245.9V256.8M292.5 245.9V261.1M293.5 262.7V263.9M294.5 247.0V264.5M295.5 247.0V255.2M296.5 264.6V271.7M297.5 263.8V275.6M298.5 255.0V263.8M299.5 258.4V262.8M300.5 269.0V274.4M301.5 281.5V283.3M302.5 272.8V277.9M303.5 266.9V277.3M304.5 278.8V283.6M305.5 280.6V291.0M306.5 256.5V280.6M307.5 256.5V279.0M308.5 264.7V279.0M309.5 259.5V264.7M310.5 259.5V273.5M311.5 261.2V266.5M312.5 266.7V275.1M313.5 262.3V270.9M314.5 258.0V259.7M315.5 262.7V263.5M316.5 266.3V270.1M317.5 274.3V275.0M318.5 275.7V283.3M319.5 284.6V287.0M320.5 270.9V290.2M321.5 270.9V283.4M322.5 249.0V283.4M323.5 249.0V292.4M324.5 292.5V292.8M325.5 250.2V293.0M326.5 250.2V252.0M327.5 255.2V264.8M328.5 266.9V274.1M329.5 259.0V267.6M330.5 267.4V267.6M331.5 267.3V279.4M332.5 279.4V285.2M333.5 282.1V285.2M334.5 277.1V279.1M335.5 276.4V276.7M336.5 276.8V278.0M337.5 278.1V280.1M338.5 280.5V283.6M339.5 280.5V319.9M340.5 319.9V323.0M341.5 316.6V323.0M342.5 317.0V317.7M343.5 294.2V318.5M344.5 294.2V313.4M345.5 285.2V298.0M346.5 282.0V293.4M347.5 276.3V309.5M348.5 276.3V305.0M349.5 269.8V305.0M350.5 276.9V282.8M351.5 285.5V286.6M352.5 278.9V285.5M353.5 266.2V278.9M354.5 262.3V266.2M355.5 264.6V268.2M356.5 272.7V310.0M357.5 301.4V310.0M358.5 296.2V301.4M359.5 296.2V315.0M360.5 267.9V315.0M361.5 271.3V274.6M362.5 277.3V278.1M363.5 278.0V315.8M364.5 292.5V315.8M365.5 292.5V316.4M366.5 307.6V316.4M367.5 268.2V307.6M368.5 283.6V298.4M369.5 271.7V310.6M370.5 281.4V294.2M371.5 273.3V291.1M372.5 268.2V286.7M373.5 251.0V310.4M374.5 273.6V294.8M375.5 311.6V311.9M376.5 277.0V311.9M377.5 277.0V305.2M378.5 305.2V321.9M379.5 322.7V323.6M380.5 302.3V324.4M381.5 302.3V319.1M382.5 284.1V319.1M383.5 286.7V288.9M384.5 298.7V305.4M385.5 302.7V306.1M386.5 300.2V310.6M387.5 316.6V329.3M388.5 293.8V316.6M389.5 294.1V294.6M390.5 295.0V332.2M391.5 325.5V329.5M392.5 283.3V320.8M393.5 283.3V318.7M394.5 318.7V363.7M395.5 323.2V363.7M396.5 275.0V296.9M397.5 276.2V296.8M398.5 265.6V319.6M399.5 265.6V316.0M400.5 308.5V316.0M401.5 251.2V308.5M402.5 251.2V318.6M403.5 259.3V318.6M404.5 259.3V317.5M405.5 281.1V300.6M406.5 261.8V308.7M407.5 294.6V300.7M408.5 268.0V291.5M409.5 268.0V330.1M410.5 314.2V330.1M411.5 271.0V314.2M412.5 290.2V311.7M413.5 301.0V332.4M414.5 274.0V301.0M415.5 274.0V292.3" fill="none" stroke="#5010a8" stroke-width="1.0" opacity="0.72"/>
<path d="M415.5 347.8V348.6M416.5 340.4V344.4M417.5 312.6V326.4M418.5 298.1V343.6M419.5 331.1V335.5M420.5 331.1V348.6M421.5 345.0V346.6M422.5 329.0V347.9M423.5 336.5V340.6M424.5 321.5V330.6M425.5 340.6V346.1M426.5 334.5V349.0M427.5 327.4V333.8M428.5 322.4V326.1M429.5 322.2V335.1M430.5 335.6V343.5M431.5 330.8V357.4M432.5 330.8V344.8M433.5 344.8V360.8M434.5 344.2V351.2M435.5 327.8V359.3M436.5 302.1V319.5M437.5 301.1V308.6M438.5 306.2V348.8M439.5 321.2V332.9M440.5 291.8V305.7M441.5 285.6V295.6M442.5 272.3V305.9M443.5 304.7V305.9M444.5 306.3V309.3M445.5 264.0V324.7M446.5 312.9V317.7M447.5 282.7V311.0M448.5 288.5V298.8M449.5 316.9V322.6M450.5 298.6V311.1M451.5 298.0V304.1M452.5 282.1V288.7M453.5 274.5V290.3M454.5 315.4V322.5M455.5 318.6V326.5M456.5 297.9V311.6M457.5 297.9V337.5M458.5 300.7V324.5M459.5 296.4V342.5M460.5 344.9V348.8M461.5 339.4V347.5M462.5 335.8V343.6M463.5 330.8V347.9M464.5 334.6V348.0M465.5 354.8V362.9M466.5 354.5V354.8M467.5 314.3V354.5M468.5 330.7V335.2M469.5 338.9V359.0M470.5 330.2V341.2M471.5 307.9V321.3M472.5 341.9V344.5M473.5 340.7V345.4M474.5 324.4V353.4M475.5 332.6V341.0M476.5 337.2V340.0M477.5 332.7V347.1M478.5 334.6V340.9M479.5 336.1V342.0M480.5 330.0V334.4M481.5 320.7V338.1M482.5 329.8V338.1M483.5 286.6V307.5M484.5 310.4V340.0M485.5 317.9V326.6M486.5 324.8V337.0M487.5 266.5V329.9M488.5 325.2V336.4M489.5 283.4V315.0M490.5 333.6V352.2M491.5 280.8V350.9M492.5 312.7V338.8M493.5 314.3V355.4M494.5 285.6V354.8M495.5 285.6V345.6M496.5 283.6V344.6M497.5 306.1V320.2M498.5 304.2V359.7M499.5 313.8V359.7M500.5 354.5V361.8M501.5 361.6V362.4M502.5 331.6V362.0M503.5 356.5V360.2M504.5 350.4V361.1M505.5 355.3V360.5M506.5 343.3V352.7M507.5 309.1V324.6M508.5 322.9V336.9M509.5 309.1V328.4M510.5 292.5V340.2M511.5 334.2V340.2M512.5 339.6V347.6M513.5 311.9V362.6M514.5 326.7V341.0M515.5 361.7V364.3M516.5 355.6V368.8M517.5 355.7V357.9M518.5 341.6V359.4M519.5 344.2V352.9M520.5 359.2V363.4M521.5 354.6V367.9M522.5 357.7V367.6M523.5 361.2V367.3M524.5 361.2V366.4M525.5 342.3V366.4M526.5 338.3V358.1M527.5 296.0V320.3M528.5 353.3V359.2M529.5 339.4V361.0M530.5 319.5V353.6M531.5 345.1V362.0M532.5 338.0V342.5M533.5 345.7V356.5M534.5 345.4V352.8M535.5 285.0V364.5M536.5 346.5V368.3M537.5 341.2V368.3M538.5 353.9V358.0M539.5 340.8V368.1M540.5 331.3V349.9M541.5 366.3V368.5M542.5 353.0V359.8M543.5 339.2V346.9M544.5 363.5V367.2M545.5 346.5V351.9M546.5 324.5V343.2M547.5 324.5V346.5M548.5 327.7V349.4M549.5 352.8V356.6M550.5 354.5V357.4M551.5 338.8V352.0M552.5 338.8V362.0M553.5 345.0V352.8M554.5 363.1V363.9M555.5 332.3V364.3M556.5 344.0V353.4M557.5 348.5V354.3M558.5 342.7V361.4M559.5 351.2V360.3M560.5 338.7V344.5M561.5 339.6V354.5M562.5 344.7V346.4M563.5 351.2V357.4M564.5 340.7V366.3M565.5 340.7V363.2M566.5 334.5V356.8M567.5 318.4V335.4M568.5 318.4V342.4M569.5 318.2V360.4M570.5 327.7V339.4M571.5 310.8V317.7M572.5 295.1V308.1M573.5 291.4V318.1M574.5 352.4V359.3M575.5 351.4V356.9M576.5 348.5V363.0M577.5 336.8V358.6M578.5 323.1V330.8M579.5 324.8V332.2M580.5 314.0V350.5M581.5 331.5V350.5M582.5 328.4V329.9M583.5 266.0V330.3M584.5 284.5V334.3M585.5 284.5V340.1M586.5 291.8V323.4M587.5 295.1V331.1M588.5 307.4V315.4M589.5 254.5V281.2M590.5 315.5V327.6M591.5 319.0V345.4M592.5 344.0V350.4M593.5 286.3V315.0M594.5 351.1V367.8M595.5 323.1V367.8M596.5 329.2V344.1" fill="none" stroke="#5010a8" stroke-width="1.0" opacity="0.65"/>
<path d="M415.5 296.0V328.2M416.5 296.0V344.1M417.5 329.9V344.1M418.5 316.1V343.2M419.5 319.5V331.8M420.5 341.9V346.0M421.5 341.8V347.1M422.5 354.8V355.6M423.5 353.2V354.3M424.5 326.7V355.0M425.5 311.9V355.0M426.5 342.8V355.0M427.5 342.8V346.1M428.5 346.1V355.0M429.5 326.6V341.4M430.5 317.8V331.0M431.5 326.4V341.5M432.5 352.4V353.2M433.5 318.3V352.4M434.5 304.5V318.3M435.5 302.6V343.1M436.5 343.1V343.9M437.5 305.8V343.7M438.5 297.9V305.8M439.5 288.7V295.0M440.5 280.2V298.2M441.5 267.0V298.2M442.5 280.0V293.0M443.5 269.4V312.8M444.5 270.0V292.5M445.5 274.9V281.0M446.5 286.0V297.0M447.5 314.7V316.0M448.5 314.7V316.0M449.5 291.9V316.0M450.5 304.6V309.2M451.5 310.0V315.4M452.5 290.5V315.4M453.5 289.6V299.2M454.5 278.3V283.3M455.5 290.7V298.2M456.5 290.9V304.6M457.5 290.9V327.8M458.5 327.8V337.2M459.5 326.0V339.1M460.5 339.1V340.3M461.5 340.3V354.2M462.5 351.0V355.0M463.5 350.4V352.2M464.5 347.3V350.3M465.5 346.5V355.0M466.5 355.0V355.8M467.5 351.4V353.3M468.5 349.3V353.3M469.5 339.7V353.3M470.5 339.7V350.9M471.5 322.1V333.5M472.5 318.4V335.3M473.5 317.4V335.3M474.5 320.8V321.3M475.5 304.4V345.5M476.5 329.5V345.5M477.5 293.1V329.5M478.5 313.3V337.2M479.5 298.3V316.1M480.5 297.8V308.2M481.5 318.1V322.1M482.5 271.5V326.8M483.5 260.0V320.8M484.5 321.2V322.0M485.5 290.9V323.0M486.5 303.6V310.3M487.5 299.2V313.0M488.5 289.8V299.2M489.5 274.8V296.0M490.5 318.5V324.0M491.5 283.3V303.4M492.5 306.3V329.9M493.5 311.5V322.2M494.5 269.5V299.5M495.5 269.5V322.7M496.5 288.7V291.1M497.5 277.5V324.4M498.5 324.4V337.3M499.5 326.1V339.1M500.5 317.0V326.1M501.5 295.5V329.5M502.5 295.5V335.4M503.5 297.8V335.4M504.5 297.8V324.1M505.5 324.1V339.5M506.5 320.6V324.3M507.5 304.5V311.1M508.5 301.4V310.0M509.5 320.1V327.8M510.5 320.9V326.6M511.5 309.9V315.0M512.5 320.8V331.1M513.5 331.1V336.0M514.5 332.2V333.7M515.5 320.8V327.3M516.5 334.8V335.3M517.5 332.9V336.0M518.5 333.8V334.5M519.5 326.9V335.1M520.5 333.8V334.6M521.5 326.8V330.5M522.5 325.4V328.3M523.5 301.0V328.3M524.5 297.5V301.0M525.5 243.0V297.5M526.5 243.4V243.9M527.5 244.5V281.6M528.5 255.0V258.7M529.5 250.0V262.9M530.5 254.7V303.5M531.5 245.0V303.5M532.5 265.0V291.1M533.5 279.0V303.8M534.5 255.0V280.4M535.5 261.6V327.4M536.5 263.4V275.0M537.5 294.8V332.0M538.5 300.5V324.1M539.5 289.2V320.3M540.5 268.1V320.3M541.5 278.4V300.3M542.5 290.9V304.8M543.5 284.7V288.8M544.5 291.2V327.0M545.5 311.0V317.1M546.5 316.3V322.7M547.5 325.1V328.8M548.5 325.1V326.9M549.5 321.1V323.4M550.5 320.6V320.9M551.5 320.6V325.6M552.5 320.8V321.1M553.5 321.8V324.0M554.5 326.9V327.2M555.5 325.1V325.9M556.5 324.9V325.7M557.5 322.8V327.0M558.5 320.0V322.8M559.5 320.0V320.8M560.5 320.3V320.9M561.5 320.1V326.3M562.5 324.2V325.5M563.5 322.6V323.2M564.5 323.8V324.2M565.5 322.5V327.0M566.5 327.0V327.8M567.5 301.1V312.6M568.5 294.3V306.7M569.5 306.7V320.2M570.5 319.9V320.7M571.5 261.0V327.8M572.5 319.5V327.8M573.5 273.4V293.9M574.5 261.0V327.8M575.5 323.6V328.0M576.5 325.3V328.0M577.5 268.3V291.3M578.5 258.5V327.7M579.5 258.5V322.6M580.5 297.5V308.7M581.5 280.1V290.6M582.5 290.5V300.5M583.5 284.2V308.7M584.5 237.0V284.2M585.5 237.0V285.2M586.5 285.2V287.6M587.5 240.0V302.2M588.5 255.4V274.3M589.5 248.0V335.3M590.5 335.3V340.8M591.5 340.8V357.5M592.5 327.0V341.3M593.5 334.2V348.6M594.5 357.6V358.4M595.5 357.6V358.4M596.5 358.0V358.8" fill="none" stroke="#ff0000" stroke-width="0.9" opacity="0.8"/>
<polyline points="415.00,346.00 415.88,344.54 417.15,342.44 418.59,340.12 420.00,338.00 421.25,336.05 422.46,334.09 423.85,332.34 425.60,331.00 427.78,330.22 430.28,329.86 433.03,329.69 436.00,329.50 438.40,329.26 440.52,329.07 443.88,328.92 450.00,328.80 458.89,328.71 469.88,328.66 483.42,328.62 500.00,328.60 523.02,328.59 551.12,328.59 577.67,328.60 596.00,328.60" fill="none" stroke="#3fe6ee" stroke-width="0.8" opacity="0.9" stroke-linejoin="round"/>
<line x1="13.5" y1="358.2" x2="22" y2="358.2" stroke="#a77cd6" stroke-width="1.0" opacity="1"/>
<line x1="13.5" y1="375.2" x2="22" y2="375.2" stroke="#ff1a1a" stroke-width="1.0" opacity="1"/>
<text x="25.0" y="358.2" font-size="4.2" text-anchor="start" fill="#222" font-weight="normal" opacity="1" dominant-baseline="central" textLength="26" lengthAdjust="spacingAndGlyphs">Ground Truth</text>
<text x="25.0" y="364.4" font-size="4.2" text-anchor="start" fill="#222" font-weight="normal" opacity="1" dominant-baseline="central" textLength="12.5" lengthAdjust="spacingAndGlyphs">ARIMA</text>
<text x="25.0" y="369.5" font-size="4.2" text-anchor="start" fill="#222" font-weight="normal" opacity="1" dominant-baseline="central" textLength="7" lengthAdjust="spacingAndGlyphs">ETS</text>
<text x="25.0" y="375.2" font-size="4.2" text-anchor="start" fill="#222" font-weight="normal" opacity="1" dominant-baseline="central" textLength="29" lengthAdjust="spacingAndGlyphs">DL Transformer</text>
</svg></body></html>
